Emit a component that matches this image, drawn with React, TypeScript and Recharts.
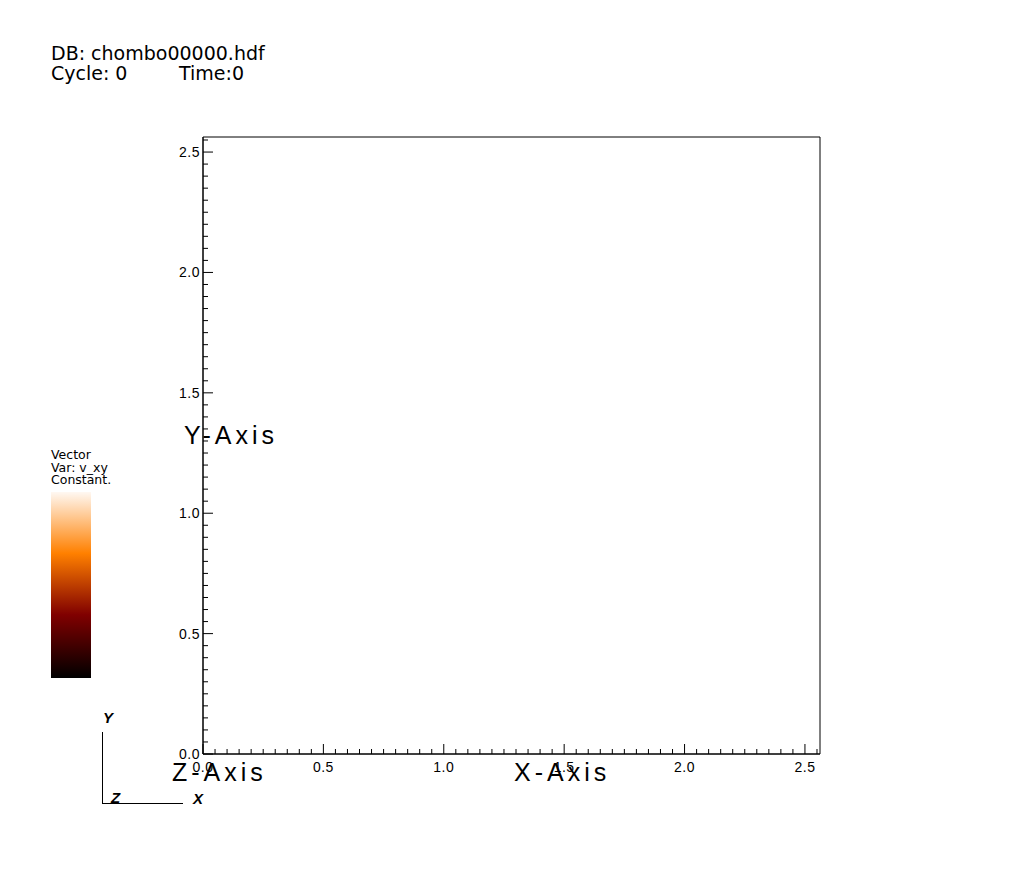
import React from 'react';
import { ScatterChart, Scatter, XAxis, YAxis, ReferenceArea } from 'recharts';

// VisIt-style empty vector plot: the data set holds no vectors
const vectorData: { x: number; y: number }[] = [];

const axisMax = 2.5625;
const majorTicks = [0, 0.5, 1.0, 1.5, 2.0, 2.5];
const majorLabels = ['0.0', '0.5', '1.0', '1.5', '2.0', '2.5'];
// minor ticks every 0.05 between the majors
const allTicks: number[] = [];
for (let i = 0; i <= 51; i++) allTicks.push(Math.round(i * 5) / 100);

const titleLines = ['DB: chombo00000.hdf', 'Cycle: 0'];
const timeLabel = 'Time:0';
const legendLines = ['Vector', 'Var: v_xy', 'Constant.'];

const tickFont = '"Liberation Sans", Arial, sans-serif';

function labelFor(v: number) {
  const i = majorTicks.findIndex((m) => Math.abs(m - v) < 1e-6);
  return i >= 0 ? majorLabels[i] : null;
}

const BottomTick = (props: any) => {
  const { x, y, payload } = props;
  const label = labelFor(payload.value);
  const len = label ? 10 : 5;
  return (
    <g>
      <line x1={x} y1={y} x2={x} y2={y - len} stroke="#000" strokeWidth={1} />
      {label && (
        <text x={x} y={y + 18} textAnchor="middle" fontFamily={tickFont} fontSize={14} letterSpacing={0.5} fill="#000">
          {label}
        </text>
      )}
    </g>
  );
};

const LeftTick = (props: any) => {
  const { x, y, payload } = props;
  const label = labelFor(payload.value);
  const len = label ? 10 : 5;
  return (
    <g>
      <line x1={x} y1={y} x2={x + len} y2={y} stroke="#000" strokeWidth={1} />
      {label && (
        <text x={x - 3} y={y + 5} textAnchor="end" fontFamily={tickFont} fontSize={14} letterSpacing={0.5} fill="#000">
          {label}
        </text>
      )}
    </g>
  );
};

export default function App() {
  return (
    <div style={{ position: 'absolute', left: 0, top: 0, width: 1024, height: 893, background: '#fff' }}>
      <ScatterChart width={1024} height={893} margin={{ top: 137, right: 204, bottom: 138, left: 202 }}>
        <XAxis
          type="number"
          dataKey="x"
          domain={[0, axisMax]}
          ticks={allTicks}
          interval={0}
          height={1}
          tickSize={0}
          tickMargin={0}
          tick={(p: any) => <BottomTick {...p} />}
          axisLine={{ stroke: '#000' }}
          allowDataOverflow
        />
        <YAxis
          type="number"
          dataKey="y"
          domain={[0, axisMax]}
          ticks={allTicks}
          interval={0}
          width={1}
          tickSize={0}
          tickMargin={0}
          tick={(p: any) => <LeftTick {...p} />}
          axisLine={{ stroke: '#000' }}
          allowDataOverflow
        />
        <ReferenceArea x1={0} x2={axisMax} y1={0} y2={axisMax} fill="none" stroke="#000" strokeWidth={1} />
        <Scatter data={vectorData} fill="#ff8000" isAnimationActive={false} />
      </ScatterChart>

      <svg width={1024} height={893} style={{ position: 'absolute', left: 0, top: 0, pointerEvents: 'none' }}>
        <defs>
          <linearGradient id="hot" x1="0" y1="0" x2="0" y2="1">
            <stop offset="0" stopColor="#fff8f2" />
            <stop offset="0.33" stopColor="#ff8000" />
            <stop offset="0.66" stopColor="#800000" />
            <stop offset="1" stopColor="#000000" />
          </linearGradient>
        </defs>
        <g fontFamily='"DejaVu Sans", sans-serif' fill="#000">
          <text x={51} y={59.5} fontSize={19}>{titleLines[0]}</text>
          <text x={51} y={79.5} fontSize={19}>{titleLines[1]}</text>
          <text x={179} y={79.5} fontSize={19}>{timeLabel}</text>
          {legendLines.map((t, i) => (
            <text key={t} x={51} y={459 + i * 12.5} fontSize={12.5}>{t}</text>
          ))}
        </g>
        <rect x={51} y={492} width={40} height={186} fill="url(#hot)" />

        <g fontFamily={tickFont} fontSize={25} letterSpacing={4} fill="#000">
          <text x={184} y={444}>Y-Axis</text>
          <text x={514} y={781}>X-Axis</text>
          <text x={172} y={781}>Z-Axis</text>
        </g>

        <line x1={102.5} y1={732} x2={102.5} y2={803.5} stroke="#000" strokeWidth={1} />
        <line x1={102} y1={803.5} x2={183} y2={803.5} stroke="#000" strokeWidth={1} />
        <g fontFamily={tickFont} fontSize={15} fontWeight="bold" fontStyle="italic" fill="#000">
          <text x={103} y={723}>Y</text>
          <text x={111} y={803}>Z</text>
          <text x={193} y={804}>X</text>
        </g>
      </svg>
    </div>
  );
}
